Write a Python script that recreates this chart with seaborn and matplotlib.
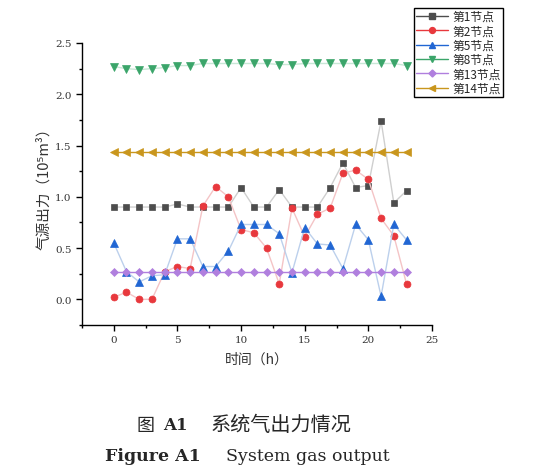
import matplotlib

matplotlib.use("Agg")
import matplotlib.pyplot as plt
from matplotlib.lines import Line2D
from matplotlib.ticker import MultipleLocator
import numpy as np
import pandas as pd
import seaborn as sns

# ---- data (hour 0..23) ----
hours = list(range(24))
node1 = [0.90, 0.90, 0.90, 0.90, 0.90, 0.93, 0.90, 0.90, 0.90, 0.90, 1.09, 0.90,
         0.90, 1.07, 0.90, 0.90, 0.90, 1.09, 1.33, 1.09, 1.11, 1.74, 0.94, 1.06]
node2 = [0.02, 0.07, 0.00, 0.00, 0.27, 0.32, 0.30, 0.91, 1.10, 1.00, 0.68, 0.65,
         0.50, 0.15, 0.89, 0.61, 0.83, 0.89, 1.23, 1.26, 1.17, 0.79, 0.62, 0.15]
node5 = [0.55, 0.27, 0.17, 0.23, 0.24, 0.59, 0.59, 0.32, 0.32, 0.47, 0.73, 0.73,
         0.73, 0.64, 0.26, 0.70, 0.54, 0.53, 0.30, 0.73, 0.58, 0.03, 0.73, 0.58]
node8 = [2.27, 2.25, 2.24, 2.25, 2.26, 2.28, 2.28, 2.30, 2.30, 2.30, 2.30, 2.30,
         2.30, 2.29, 2.29, 2.30, 2.30, 2.30, 2.30, 2.30, 2.30, 2.30, 2.30, 2.28]
node13 = [0.27] * 24
node14 = [1.44] * 24

labels = ["第1节点", "第2节点", "第5节点", "第8节点", "第13节点", "第14节点"]
series = [node1, node2, node5, node8, node13, node14]

# marker colour, line colour in plot, marker, size
styles = [
    ("#4d4d4d", "#cfcfcf", "s", 4.6),
    ("#e8383d", "#f4c4c6", "o", 5.0),
    ("#2166d3", "#bcd0ec", "^", 5.4),
    ("#3ba56a", "#c8e8d6", "v", 5.4),
    ("#b07fde", "#b07fde", "D", 4.2),
    ("#c9961d", "#c9961d", "<", 5.4),
]

sns.set_theme(style="ticks")
plt.rcParams["font.family"] = ["DejaVu Serif", "Noto Sans CJK SC"]
cjk = ["Noto Sans CJK SC", "DejaVu Sans"]

fig = plt.figure(figsize=(5.39, 4.77), dpi=100)
ax = fig.add_axes([0.152, 0.3166, 0.6495, 0.5912])

handles = []
for lab, vals, (mc, lc, mk, ms) in zip(labels, series, styles):
    df = pd.DataFrame({"hour": hours, "value": vals})
    sns.lineplot(data=df, x="hour", y="value", ax=ax, color=lc, lw=1.0,
                 marker=mk, markersize=ms, markerfacecolor=mc,
                 markeredgecolor=mc, markeredgewidth=0.5, legend=False)
    handles.append(Line2D([], [], color=mc, lw=1.0, marker=mk, markersize=ms * 0.85,
                          markerfacecolor=mc, markeredgecolor=mc, label=lab))

ax.set_xlim(-2.5, 25)
ax.set_ylim(-0.25, 2.5)
ax.xaxis.set_major_locator(MultipleLocator(5))
ax.xaxis.set_minor_locator(MultipleLocator(2.5))
ax.yaxis.set_major_locator(MultipleLocator(0.5))
ax.yaxis.set_minor_locator(MultipleLocator(0.25))
ax.yaxis.set_major_formatter(matplotlib.ticker.FormatStrFormatter("%.1f"))
ax.tick_params(which="major", direction="out", length=4, width=1,
               labelsize=7.5, colors="black", labelcolor="#333333")
ax.tick_params(which="minor", direction="out", length=2.5, width=1, colors="black")
for side in ["top", "right"]:
    ax.spines[side].set_visible(False)
for side in ["left", "bottom"]:
    ax.spines[side].set_color("black")
    ax.spines[side].set_linewidth(1.0)

ax.set_xlabel("时间（h）", family=cjk, fontsize=10, color="#333333", labelpad=5)
ax.set_ylabel("气源出力（10⁵m³）", family=cjk, fontsize=10.5, color="#333333", labelpad=3)

leg = fig.legend(handles=handles, loc="upper left", bbox_to_anchor=(0.768, 0.981),
                 bbox_transform=fig.transFigure, frameon=True, fancybox=False,
                 edgecolor="black", framealpha=1, borderpad=0.15,
                 labelspacing=0.12, handlelength=2.7, handletextpad=0.45,
                 borderaxespad=0, prop={"family": cjk, "size": 8.5})
leg.get_frame().set_linewidth(1.0)

# caption
fig.text(0.254, 0.107, "图", family=cjk, fontsize=13, va="center", ha="left")
fig.text(0.302, 0.107, "A1", fontsize=12, fontweight="bold", va="center", ha="left")
fig.text(0.391, 0.107, "系统气出力情况", family=cjk, fontsize=14.5, va="center", ha="left")
fig.text(0.195, 0.044, "Figure A1", fontsize=12.5, fontweight="bold", va="center", ha="left")
fig.text(0.419, 0.044, "System gas output", fontsize=12.5, va="center", ha="left")

fig.savefig("out.png", dpi=100)
plt.close(fig)
